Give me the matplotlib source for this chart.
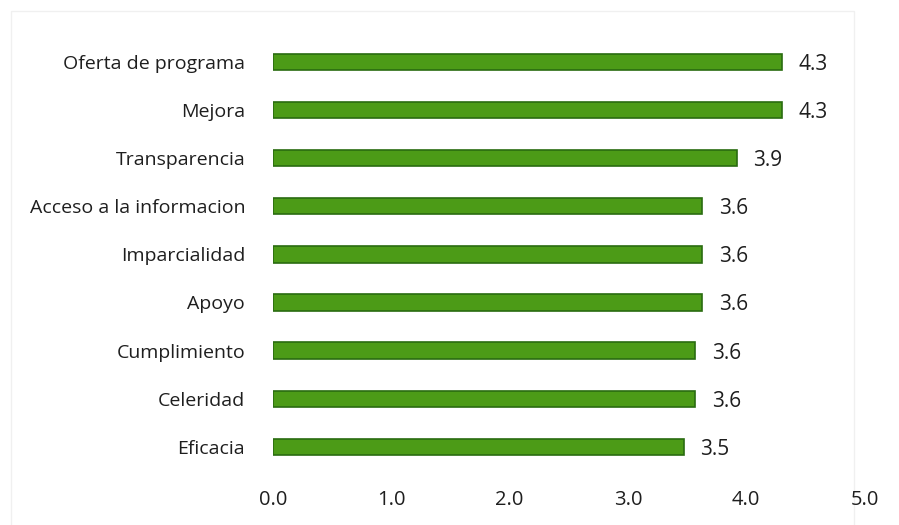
import matplotlib
matplotlib.use('Agg')
import matplotlib.pyplot as plt
from matplotlib.patches import Rectangle

# categories listed top to bottom
categories = ["Oferta de programa", "Mejora", "Transparencia",
              "Acceso a la informacion", "Imparcialidad", "Apoyo",
              "Cumplimiento", "Celeridad", "Eficacia"]
scores = [4.30, 4.30, 3.92, 3.63, 3.63, 3.63, 3.57, 3.57, 3.47]
xticks = [0, 1, 2, 3, 4, 5]

plt.rcParams['font.family'] = ['Open Sans', 'DejaVu Sans']

fig = plt.figure(figsize=(8.99, 5.25), dpi=100)
ax = fig.add_axes([0.3037, 0.103, 0.658, 0.825])
ax.patch.set_alpha(0)

ypos = list(range(len(categories)))[::-1]
ax.barh(ypos, scores, height=0.34, color="#4c9b17",
        edgecolor="#2a6c10", linewidth=1.2)

for y, v in zip(ypos, scores):
    ax.text(v + 0.14, y, f"{v:.1f}", va="center_baseline", ha="left",
            fontsize=15, color="#1e1e1e")

ax.set_xlim(0, 5)
ax.set_ylim(-0.5, len(categories) - 0.5)
ax.set_yticks(ypos)
ax.set_yticklabels(categories, fontsize=14, color="#1e1e1e")
ax.set_xticks(xticks)
ax.set_xticklabels([f"{t:.1f}" for t in xticks], fontsize=14.5,
                   color="#1e1e1e")
ax.tick_params(axis="both", length=0)
ax.tick_params(axis="y", pad=20)
ax.tick_params(axis="x", pad=14)
for s in ax.spines.values():
    s.set_visible(False)

# light outer frame of the chart area, kept behind everything
fig.patches.append(Rectangle((0.012, -0.02), 0.938, 1.0,
                             transform=fig.transFigure, fill=False,
                             edgecolor="#f0f0f0", linewidth=1, zorder=-1))

fig.savefig("out.png", dpi=100)
